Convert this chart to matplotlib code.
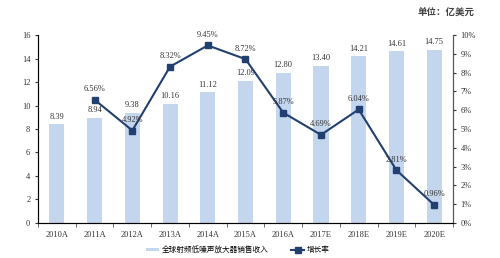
import numpy as np
import matplotlib.pyplot as plt

plt.rcParams['font.family'] = ['Liberation Serif', 'Noto Sans CJK SC']

years = ['2010A', '2011A', '2012A', '2013A', '2014A', '2015A',
         '2016A', '2017E', '2018E', '2019E', '2020E']
revenue = [8.39, 8.94, 9.38, 10.16, 11.12, 12.09, 12.80, 13.40, 14.21, 14.61, 14.75]
growth = [None, 6.56, 4.92, 8.32, 9.45, 8.72, 5.87, 4.69, 6.04, 2.81, 0.96]

bar_color = '#c3d6ee'
line_color = '#22406f'
txt = '#333333'

fig = plt.figure(figsize=(5, 2.58), dpi=100)
ax = fig.add_axes([0.076, 0.136, 0.83, 0.728])
x = np.arange(len(years))

ax.bar(x, revenue, width=0.4, color=bar_color, label='全球射频低噪声放大器销售收入')
for xi, v in zip(x, revenue):
    ax.text(xi, v + 0.3, f'{v:.2f}', ha='center', va='bottom', fontsize=6, color=txt)

ax.set_xlim(-0.5, len(years) - 0.5)
ax.set_ylim(0, 16)
ax.set_yticks(range(0, 17, 2))
ax.set_xticks(x)
ax.set_xticklabels(years)
ax.set_xticks(np.arange(-0.5, len(years), 1), minor=True)
ax.tick_params(axis='x', which='major', length=0, labelsize=6, colors=txt, pad=6)
ax.tick_params(axis='x', which='minor', length=3, color='#555555')
ax.tick_params(axis='y', labelsize=6, colors=txt, length=2, direction='out')
ax.spines['top'].set_visible(False)
for s in ['left', 'right', 'bottom']:
    ax.spines[s].set_color('#555555')
    ax.spines[s].set_linewidth(0.8)

ax2 = ax.twinx()
gx = [xi for xi, g in zip(x, growth) if g is not None]
gy = [g for g in growth if g is not None]
ax2.plot(gx, gy, color=line_color, marker='s', markersize=4, linewidth=1.5, label='增长率')
for xi, g in zip(gx, gy):
    ax2.text(xi, g + 0.35, f'{g:.2f}%', ha='center', va='bottom', fontsize=6, color=txt)
ax2.set_ylim(0, 10)
ax2.set_yticks(range(0, 11))
ax2.set_yticklabels([f'{i}%' for i in range(0, 11)])
ax2.tick_params(axis='y', labelsize=6, colors=txt, length=2)
ax2.spines['top'].set_visible(False)
ax2.spines['right'].set_color('#555555')
ax2.spines['right'].set_linewidth(0.8)

h1, l1 = ax.get_legend_handles_labels()
h2, l2 = ax2.get_legend_handles_labels()
fig.legend(h1 + h2, l1 + l2, loc='center', bbox_to_anchor=(0.476, 0.03), ncol=2,
           frameon=False, handlelength=1.6, handleheight=0.4, handletextpad=0.4,
           columnspacing=3.0, borderpad=0,
           prop={'family': ['Noto Sans CJK SC'], 'size': 5.5})

fig.text(0.95, 0.953, '单位：亿美元', ha='right', va='center', fontsize=6.8,
         color='#444444', family=['Noto Sans CJK SC'], weight='bold')

fig.savefig('out.png', dpi=100)
